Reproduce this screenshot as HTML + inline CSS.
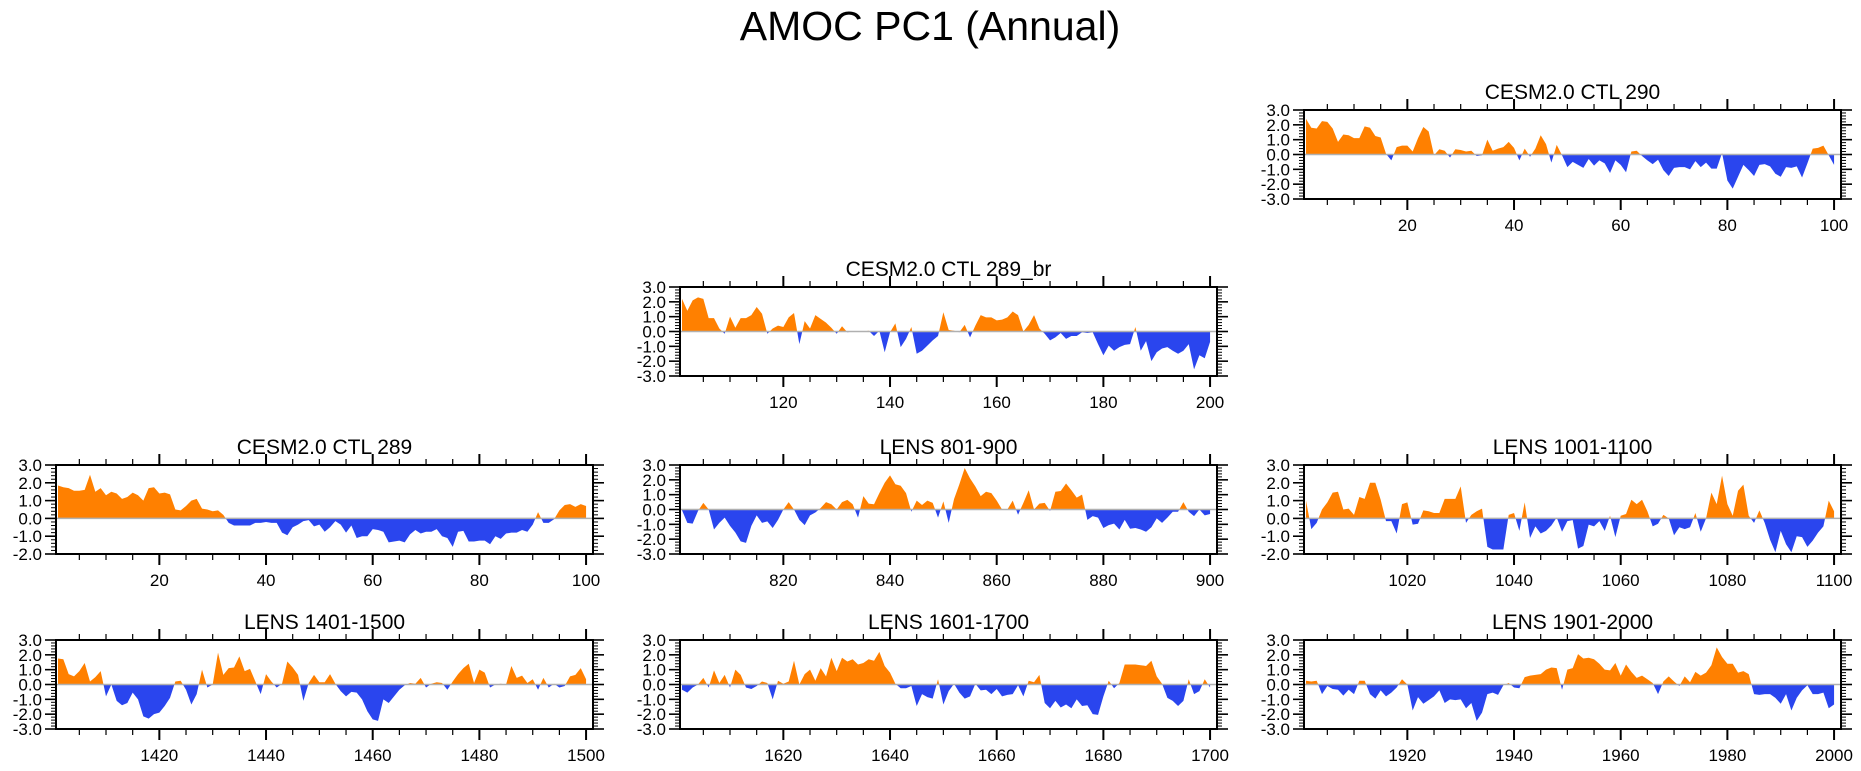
<!DOCTYPE html>
<html><head><meta charset="utf-8"><style>
html,body{margin:0;padding:0;background:#fff;}
svg{display:block;font-family:"Liberation Sans",sans-serif;}
</style></head><body>
<svg id="chart" width="1861" height="771" viewBox="0 0 1861 771" xmlns="http://www.w3.org/2000/svg">
<text x="930" y="40" font-size="41" text-anchor="middle" fill="#000">AMOC PC1 (Annual)</text>
</svg>
<script>
const panelTitles = ["CESM2.0 CTL 290","CESM2.0 CTL 289_br","CESM2.0 CTL 289","LENS 801-900","LENS 1001-1100","LENS 1401-1500","LENS 1601-1700","LENS 1901-2000"];
const panelStarts = [1,101,1,801,1001,1401,1601,1901];
const panelYMin = [-3,-3,-2,-3,-2,-3,-3,-3];
const yTickLabelsA = ["3.0","2.0","1.0","0.0","-1.0","-2.0","-3.0"];
const yTickLabelsB = ["3.0","2.0","1.0","0.0","-1.0","-2.0"];
const s290 = [2.4,1.8,1.75,2.25,2.2,1.75,0.85,1.35,1.3,1.1,1.1,1.9,1.8,1.25,1.15,0.05,-0.4,0.5,0.6,0.6,0.2,1.1,1.85,1.55,-0.05,0.35,0.25,-0.2,0.35,0.3,0.2,0.25,-0.1,-0.05,1.0,0.25,0.4,0.5,0.85,0.45,-0.4,0.4,-0.15,0.4,1.3,0.7,-0.55,0.65,-0.05,-0.85,-0.5,-0.7,-0.9,-0.3,-0.75,-0.4,-0.6,-1.25,-0.4,-0.7,-1.2,0.2,0.25,-0.1,-0.4,-0.65,-0.35,-1.05,-1.45,-0.9,-0.85,-0.85,-1.0,-0.45,-0.85,-0.55,-0.95,-0.95,0.1,-1.75,-2.3,-1.5,-0.7,-1.05,-1.45,-0.7,-0.65,-0.8,-1.3,-1.5,-0.85,-0.9,-0.8,-1.55,-0.6,0.4,0.45,0.6,-0.05,-0.7];
const s289br = [2.2,1.4,2.1,2.3,2.2,0.9,0.9,0.2,-0.15,1.0,0.25,0.9,0.9,1.1,1.65,1.2,-0.15,0.2,0.4,0.3,0.95,1.25,-0.85,0.7,0.2,1.1,0.85,0.6,0.25,-0.15,0.35,-0.05,0.0,0.0,0.0,0.05,-0.3,0.05,-1.4,-0.05,0.55,-1.05,-0.5,0.3,-1.5,-1.3,-0.95,-0.6,-0.3,1.3,0.1,0.05,-0.05,0.45,-0.4,0.4,1.1,0.95,0.95,0.75,0.8,0.95,1.35,1.1,0.0,0.45,1.1,0.2,-0.15,-0.6,-0.4,-0.1,-0.5,-0.3,-0.3,-0.05,-0.1,-0.05,-0.85,-1.6,-0.95,-1.3,-1.05,-0.9,-0.85,0.3,-1.3,-0.65,-2.0,-1.4,-1.15,-1.05,-1.3,-1.5,-1.3,-0.85,-2.55,-1.6,-1.8,-0.7];
const s289 = [1.85,1.75,1.7,1.55,1.55,1.6,2.45,1.5,1.7,1.3,1.5,1.4,1.1,1.2,1.45,1.3,1.0,1.7,1.75,1.4,1.45,1.35,0.5,0.45,0.7,1.0,1.1,0.55,0.5,0.4,0.45,0.2,-0.25,-0.4,-0.4,-0.4,-0.4,-0.25,-0.25,-0.2,-0.25,-0.25,-0.8,-0.95,-0.5,-0.35,-0.15,-0.1,-0.45,-0.35,-0.75,-0.5,-0.15,-0.35,-0.8,-0.4,-1.1,-1.0,-1.0,-0.6,-0.65,-0.75,-1.35,-1.3,-1.25,-1.35,-0.9,-0.65,-0.85,-0.75,-0.75,-0.6,-1.0,-1.1,-1.6,-0.75,-0.7,-1.3,-1.3,-1.25,-1.25,-1.45,-1.0,-1.15,-0.85,-0.8,-0.8,-0.65,-0.75,-0.35,0.35,-0.25,-0.25,-0.05,0.45,0.75,0.8,0.65,0.8,0.7];
const s801 = [-0.05,-0.9,-0.95,-0.1,0.45,0,-1.35,-0.9,-0.55,-1.1,-1.55,-2.15,-2.25,-1.1,-0.4,-0.9,-0.8,-1.25,-0.7,0,0.5,0,-0.7,-1.05,-0.4,-0.2,0.1,0.5,0.35,0,0.5,0.65,0.35,-0.55,0.9,0.4,0.35,1.1,1.8,2.3,1.7,1.6,1.1,-0.15,0.6,0.3,0.6,0.45,-0.55,0.55,-0.9,0.7,1.7,2.8,2.1,1.55,0.9,1.2,1.1,0.6,0,0,0.6,-0.35,0.45,1.3,0,0.4,0.45,-0.1,1.2,1.25,1.75,1.3,0.8,1.0,-0.7,-0.45,-0.55,-1.25,-1.05,-0.95,-1.35,-0.7,-1.3,-1.25,-1.35,-1.5,-1.2,-0.6,-0.9,-0.55,-0.15,-0.15,0.5,-0.15,-0.45,0,-0.4,-0.3];
const s1001 = [1.0,-0.6,-0.25,0.5,0.9,1.45,1.5,0.5,0.55,0.2,1.2,1.1,2.0,2.0,1.05,-0.15,-0.15,-0.85,0.8,0.9,-0.35,-0.3,0.45,0.4,0.3,0.3,1.1,1.1,1.1,1.8,-0.25,0.2,0.4,0.55,-1.6,-1.75,-1.75,-1.75,0.2,0.3,-0.7,0.9,-1.1,-0.45,-0.85,-0.7,-0.4,0.05,-0.75,-0.15,-0.1,-1.7,-1.55,-0.35,-0.45,-0.15,-0.7,0.15,-1.05,0.15,0.25,1.05,0.8,1.05,0.4,-0.45,-0.3,0.2,0,-0.95,-0.5,-0.6,-0.5,0.3,-0.75,0,1.45,0.8,2.4,0.8,0.15,1.55,1.9,0.15,-0.25,0.45,-0.25,-1.2,-1.9,-0.7,-1.45,-1.9,-1.0,-1.05,-1.6,-1.25,-0.8,-0.45,1.0,0.4];
const s1401 = [1.75,1.7,0.7,0.55,0.9,1.45,0.2,0.5,0.9,-0.8,0,-1.1,-1.4,-1.25,-0.55,-1.0,-2.15,-2.3,-2.0,-1.9,-1.45,-0.9,0.2,0.25,-0.35,-1.35,-0.65,1.0,-0.2,0,2.15,0.65,1.1,1.15,1.9,0.9,1.05,0.2,-0.65,0.7,0.2,-0.2,0.05,1.55,1.15,0.65,-1.1,0.1,0.65,0.15,0.15,0.7,0.05,-0.45,-0.8,-0.5,-0.55,-1.0,-1.8,-2.35,-2.45,-1.0,-1.25,-0.8,-0.35,-0.05,0.1,0.05,0.45,-0.2,0.05,0.15,0.1,-0.35,0.2,0.7,1.1,1.4,0.1,1.0,0.8,-0.2,0,0.05,0,1.25,0.45,0.6,0.1,0.35,-0.35,0.45,-0.2,0.05,-0.2,-0.1,0.55,0.65,1.1,0.35];
const s1601 = [-0.35,-0.55,-0.2,0,0.45,-0.2,0.95,0.1,0.65,-0.2,1.0,0.65,-0.2,-0.3,-0.1,0.2,0.1,-1.0,0.25,0.05,0.2,1.6,0,0.7,1.0,0.25,1.1,0.55,1.8,0.9,1.8,1.55,1.7,1.35,1.45,1.7,1.6,2.2,1.25,0.8,0.05,-0.25,-0.25,-0.1,-1.45,-0.65,-0.85,-0.95,0.35,-1.35,-0.45,0.05,-0.55,-0.95,-0.8,0.05,-0.4,-0.35,-0.65,-0.3,-0.8,-0.7,-0.65,-0.05,-0.8,0.25,0.15,0.65,-1.25,-1.6,-1.1,-1.55,-1.35,-1.6,-1.0,-1.45,-1.4,-2.0,-2.05,-0.8,0.25,-0.25,0.1,1.35,1.35,1.35,1.3,1.25,1.6,0.55,0.05,-0.9,-1.1,-1.45,-1.1,0.35,-0.65,-0.45,0.35,-0.2];
const s1901 = [0.25,0.2,0.25,-0.65,-0.1,-0.3,-0.35,-0.75,-0.35,-0.65,0.25,0.25,-0.65,-0.95,-0.4,-0.8,-0.55,-0.2,0.35,0,-1.75,-0.85,-1.3,-1.05,-0.8,-0.4,-1.25,-1.0,-1.05,-1.0,-1.6,-1.25,-2.45,-1.9,-0.65,-0.55,-0.7,-0.05,0.1,-0.2,-0.25,0.5,0.6,0.65,0.7,1.0,1.15,1.1,-0.35,1.0,1.1,2.05,1.75,1.8,1.7,1.4,1.0,0.95,1.45,0.6,1.35,0.85,0.45,0.6,0.35,0.1,-0.65,0.2,0.55,0.2,-0.1,0.55,0.15,0.85,0.6,0.8,1.3,2.5,1.85,1.4,1.4,0.8,0.9,0.7,-0.65,-0.7,-0.65,-0.65,-0.9,-1.3,-0.65,-1.75,-0.9,-0.4,-0.05,-0.65,-0.65,-0.55,-1.6,-1.35];
const seriesList = [s290,s289br,s289,s801,s1001,s1401,s1601,s1901];
const panelNames = ["ctl-290","ctl-289-br","ctl-289","lens-801-900","lens-1001-1100","lens-1401-1500","lens-1601-1700","lens-1901-2000"];

const NS = "http://www.w3.org/2000/svg";
const svg = document.getElementById('chart');
const colX = [56,680,1304], rowY = [110,287,465,640];
const layout = [[2,0],[1,1],[0,2],[1,2],[2,2],[0,3],[1,3],[2,3]];
const W = 537, H = 89;
function mk(tag, attrs, parent){const e=document.createElementNS(NS,tag);for(const k in attrs)e.setAttribute(k,attrs[k]);parent.appendChild(e);return e;}

panelTitles.forEach((title, p) => {
  const bx = colX[layout[p][0]], by = rowY[layout[p][1]];
  const s0 = panelStarts[p], ymin = panelYMin[p], ymax = 3;
  const data = seriesList[p];
  const xMin = s0 - 0.375, xMax = s0 + 100.3;
  const xs = v => bx + (v - xMin) / (xMax - xMin) * W;
  const ys = v => by + (ymax - v) / (ymax - ymin) * H;
  const g = mk('g', {}, svg);
  
  
  const t = mk('text', {x: bx + W/2, y: by - 11, 'font-size': 21, 'text-anchor': 'middle', fill: '#000'}, g);
  t.textContent = title;
  
  
  const y0 = ys(0);
  const cid = 'c' + p;
  const defs = mk('defs', {}, g);
  const c1 = mk('clipPath', {id: cid + 'a'}, defs);
  mk('rect', {x: bx, y: by, width: W, height: y0 - by}, c1);
  const c2 = mk('clipPath', {id: cid + 'b'}, defs);
  mk('rect', {x: bx, y: y0, width: W, height: by + H - y0}, c2);
  let d = 'M' + xs(s0).toFixed(2) + ',' + y0.toFixed(2);
  data.forEach((v, i) => { d += ' L' + xs(s0 + i).toFixed(2) + ',' + ys(v).toFixed(2); });
  d += ' L' + xs(s0 + data.length - 1).toFixed(2) + ',' + y0.toFixed(2) + ' Z';
  const pa = mk('path', {d: d, fill: '#FF8000', 'clip-path': 'url(#' + cid + 'a)'}, g);
  
  
  const pb = mk('path', {d: d, fill: '#2A45EE', 'clip-path': 'url(#' + cid + 'b)'}, g);
  
  
  const zl = mk('line', {x1: bx, x2: bx + W, y1: y0, y2: y0, stroke: '#b0b0b0', 'stroke-width': 1.5}, g);
  
  
  const fr = mk('rect', {x: bx, y: by, width: W, height: H, fill: 'none', stroke: '#000', 'stroke-width': 2}, g);
  
  
  const xt = mk('g', {stroke: '#000', 'stroke-width': 1.2}, g);
  
  
  for (let v = Math.ceil(xMin / 5) * 5; v <= xMax; v += 5) {
    const x = xs(v), major = v % 20 === 0, L = major ? 11 : 6;
    mk('line', {x1: x, x2: x, y1: by + H, y2: by + H + L, 'stroke-width': major ? 2 : 1.2}, xt);
    mk('line', {x1: x, x2: x, y1: by, y2: by - L, 'stroke-width': major ? 2 : 1.2}, xt);
    if (major) {
      const tl = mk('text', {x: x, y: by + H + 32, 'font-size': 17, 'text-anchor': 'middle', fill: '#000', stroke: 'none'}, g);
      tl.textContent = String(v);
      
      
    }
  }
  const yt = mk('g', {stroke: '#000'}, g);
  
  
  for (let k = Math.round(ymin * 5); k <= 15; k++) {
    const y = ys(k / 5), major = k % 5 === 0, L = major ? 11 : 5;
    mk('line', {x1: bx, x2: bx - L, y1: y, y2: y, 'stroke-width': major ? 1.6 : 1}, yt);
    mk('line', {x1: bx + W, x2: bx + W + L, y1: y, y2: y, 'stroke-width': major ? 1.6 : 1}, yt);
  }
  const labels = ymin === -3 ? yTickLabelsA : yTickLabelsB;
  labels.forEach(lab => {
    const v = parseFloat(lab);
    const yl = mk('text', {x: bx - 14, y: ys(v) + 6, 'font-size': 17, 'text-anchor': 'end', fill: '#000'}, g);
    yl.textContent = lab;
    
    
  });
});
</script>
</body></html>
